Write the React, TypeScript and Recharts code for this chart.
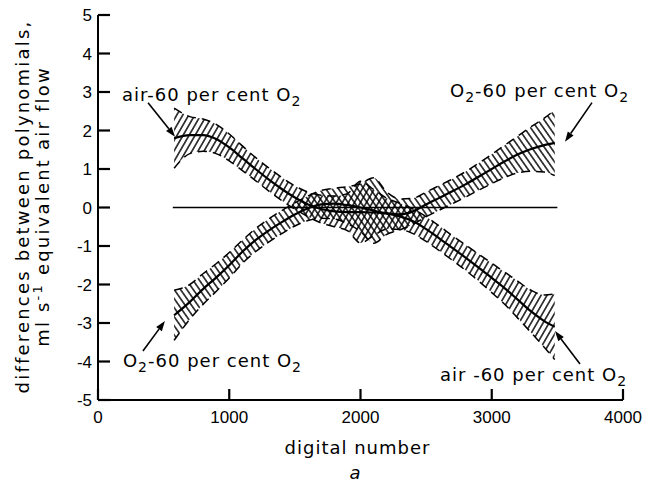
import React from 'react';
import { ComposedChart, Area, Line, XAxis, YAxis, ReferenceDot } from 'recharts';

// digital number at which the two difference curves were read
const digitalNumber = [580, 700, 800, 900, 1000, 1100, 1200, 1300, 1400, 1500, 1600, 1700, 1800, 1900, 2000, 2100, 2200, 2300, 2400, 2500, 2600, 2700, 2800, 2900, 3000, 3100, 3200, 3300, 3400, 3480];

// air - 60 per cent O2 : centre line and half width of the hatched band
const airCentre = [1.8, 1.88, 1.88, 1.78, 1.56, 1.28, 1.0, 0.73, 0.48, 0.26, 0.08, -0.04, -0.1, -0.12, -0.12, -0.13, -0.16, -0.23, -0.36, -0.56, -0.8, -1.05, -1.3, -1.56, -1.83, -2.1, -2.4, -2.7, -2.95, -3.1];
const airSpread = [0.78, 0.48, 0.42, 0.38, 0.35, 0.32, 0.3, 0.3, 0.3, 0.3, 0.32, 0.36, 0.4, 0.48, 0.8, 0.6, 0.4, 0.34, 0.32, 0.32, 0.32, 0.32, 0.33, 0.35, 0.38, 0.42, 0.48, 0.55, 0.68, 0.85];

// O2 - 60 per cent O2
const o2Centre = [-2.8, -2.45, -2.12, -1.82, -1.5, -1.15, -0.85, -0.6, -0.38, -0.18, -0.02, 0.08, 0.1, 0.06, 0.0, -0.08, -0.15, -0.18, -0.1, 0.08, 0.25, 0.42, 0.6, 0.8, 1.0, 1.2, 1.38, 1.52, 1.62, 1.68];
const o2Spread = [0.65, 0.45, 0.4, 0.36, 0.33, 0.3, 0.3, 0.3, 0.3, 0.3, 0.32, 0.36, 0.4, 0.48, 0.62, 0.85, 0.55, 0.4, 0.34, 0.32, 0.32, 0.32, 0.33, 0.35, 0.38, 0.42, 0.48, 0.58, 0.7, 0.85];

const zeroLine = [{ x: 570, y: 0 }, { x: 3500, y: 0 }];

const xTicks = [0, 1000, 2000, 3000, 4000];
const yTicks = [-5, -4, -3, -2, -1, 0, 1, 2, 3, 4, 5];

// callouts: text and the point the arrow points at
const calloutText = ['air-60 per cent O_2', 'O_2-60 per cent O_2', 'O_2-60 per cent O_2', 'air -60 per cent O_2'];
const calloutX = [587, 3558, 510, 3482];
const calloutY = [1.84, 1.71, -2.95, -3.21];

// pixel offsets from the arrow tip (tail of arrow, start of text)
const calloutLayout = [
  { tail: [-27, -34], text: [-53, -36] },
  { tail: [27, -39], text: [-115, -45] },
  { tail: [-22, 30], text: [-42, 46] },
  { tail: [25, 33], text: [-115, 50] },
];

const data = digitalNumber.map((x, i) => ({
  x,
  air: airCentre[i],
  airBand: [airCentre[i] - airSpread[i], airCentre[i] + airSpread[i]],
  o2: o2Centre[i],
  o2Band: [o2Centre[i] - o2Spread[i], o2Centre[i] + o2Spread[i]],
}));

const textFont = { fontFamily: 'DejaVu Sans', fontSize: 18, letterSpacing: 1, fill: '#000' };
const tickFont = { fill: '#000', fontSize: 17, fontFamily: 'Liberation Sans' };

const withSubscript = (s: string) => {
  const parts = s.split('_2');
  return parts.map((part, k) => (
    <React.Fragment key={k}>
      <tspan dy={k > 0 ? -5 : 0}>{part}</tspan>
      {k < parts.length - 1 && <tspan dy={5} fontSize={14}>2</tspan>}
    </React.Fragment>
  ));
};

const renderCallout = (i: number) => (props: any) => {
  const cx = Number(props.cx);
  const cy = Number(props.cy);
  const lay = calloutLayout[i];
  const tx = cx + lay.tail[0];
  const ty = cy + lay.tail[1];
  const ang = Math.atan2(cy - ty, cx - tx);
  const head = 10;
  const half = 3.5;
  const bx = cx - head * Math.cos(ang);
  const by = cy - head * Math.sin(ang);
  const pts = `${cx},${cy} ${bx - half * Math.sin(ang)},${by + half * Math.cos(ang)} ${bx + half * Math.sin(ang)},${by - half * Math.cos(ang)}`;
  return (
    <g>
      <line x1={tx} y1={ty} x2={bx} y2={by} stroke="#000" strokeWidth={1.6} />
      <polygon points={pts} fill="#000" />
      <text x={cx + lay.text[0]} y={cy + lay.text[1]} {...textFont}>
        {withSubscript(calloutText[i])}
      </text>
    </g>
  );
};

// short tick marks on the inside of the axes
const yTickMark = (props: any) => (
  <path d={`M${Number(props.cx)},${Number(props.cy)}h12`} stroke="#000" strokeWidth={2.2} fill="none" />
);

const xTickMark = (props: any) => (
  <path d={`M${Number(props.cx)},${Number(props.cy)}v-11`} stroke="#000" strokeWidth={2.2} fill="none" />
);

const YLabel = (props: any) => {
  const { viewBox } = props;
  const cy = viewBox.y + viewBox.height / 2 - 1;
  const x1 = viewBox.x + 29;
  const x2 = viewBox.x + 49;
  return (
    <g>
      <text x={x1} y={cy} transform={`rotate(-90, ${x1}, ${cy})`} textAnchor="middle" {...textFont} letterSpacing={2.2}>
        differences between polynomials,
      </text>
      <text x={x2} y={cy} transform={`rotate(-90, ${x2}, ${cy})`} textAnchor="middle" {...textFont} letterSpacing={2.2}>
        ml s<tspan dy={-7} fontSize={13}>-1</tspan>
        <tspan dy={7}> equivalent air flow</tspan>
      </text>
    </g>
  );
};

const XLabel = (props: any) => {
  const { viewBox } = props;
  const cx = viewBox.x + viewBox.width / 2;
  return (
    <g>
      <text x={cx - 3} y={viewBox.y + 54} textAnchor="middle" {...textFont}>
        digital number
      </text>
      <text x={cx - 5} y={viewBox.y + 79} textAnchor="middle" {...textFont} fontStyle="italic">
        a
      </text>
    </g>
  );
};

const blackLine = { stroke: '#000', strokeWidth: 2 };

export default function App() {
  return (
    <div style={{ position: 'absolute', left: 0, top: 0, width: 659, height: 484, background: '#fff' }}>
      <ComposedChart width={659} height={484} data={data} margin={{ top: 15, right: 36, bottom: 0, left: 0 }}>
        <defs>
          <pattern id="hatchAir" patternUnits="userSpaceOnUse" width={5.2} height={5.2} patternTransform="rotate(30)">
            <line x1={2.6} y1={0} x2={2.6} y2={5.2} stroke="#000" strokeWidth={1.4} />
          </pattern>
          <pattern id="hatchO2" patternUnits="userSpaceOnUse" width={5.2} height={5.2} patternTransform="rotate(-35)">
            <line x1={2.6} y1={0} x2={2.6} y2={5.2} stroke="#000" strokeWidth={1.4} />
          </pattern>
        </defs>
        <XAxis
          dataKey="x"
          type="number"
          domain={[0, 4000]}
          ticks={xTicks}
          height={84}
          tickSize={0}
          tickMargin={11}
          axisLine={blackLine}
          tickLine={false}
          tick={tickFont}
          label={{ content: XLabel }}
        />
        <YAxis
          type="number"
          domain={[-5, 5]}
          ticks={yTicks}
          width={98}
          tickSize={0}
          tickMargin={6}
          axisLine={blackLine}
          tickLine={false}
          tick={tickFont}
          label={{ content: YLabel }}
        />
        <Line data={zeroLine} dataKey="y" type="linear" stroke="#000" strokeWidth={1.6} dot={false} activeDot={false} isAnimationActive={false} />
        <Area dataKey="airBand" type="monotone" fill="url(#hatchAir)" fillOpacity={1} stroke="#000" strokeWidth={1.5} strokeDasharray="9 6" dot={false} activeDot={false} isAnimationActive={false} />
        <Area dataKey="o2Band" type="monotone" fill="url(#hatchO2)" fillOpacity={1} stroke="#000" strokeWidth={1.5} strokeDasharray="9 6" dot={false} activeDot={false} isAnimationActive={false} />
        <Line dataKey="air" type="monotone" stroke="#000" strokeWidth={2.2} dot={false} activeDot={false} isAnimationActive={false} />
        <Line dataKey="o2" type="monotone" stroke="#000" strokeWidth={2.2} dot={false} activeDot={false} isAnimationActive={false} />
        {yTicks.map((v) => (
          <ReferenceDot key={`y${v}`} x={0} y={v} r={0} ifOverflow="visible" shape={yTickMark} />
        ))}
        {xTicks.map((v) => (
          <ReferenceDot key={`x${v}`} x={v} y={-5} r={0} ifOverflow="visible" shape={xTickMark} />
        ))}
        {calloutText.map((_, i) => (
          <ReferenceDot key={i} x={calloutX[i]} y={calloutY[i]} r={0} ifOverflow="visible" shape={renderCallout(i)} />
        ))}
      </ComposedChart>
    </div>
  );
}
